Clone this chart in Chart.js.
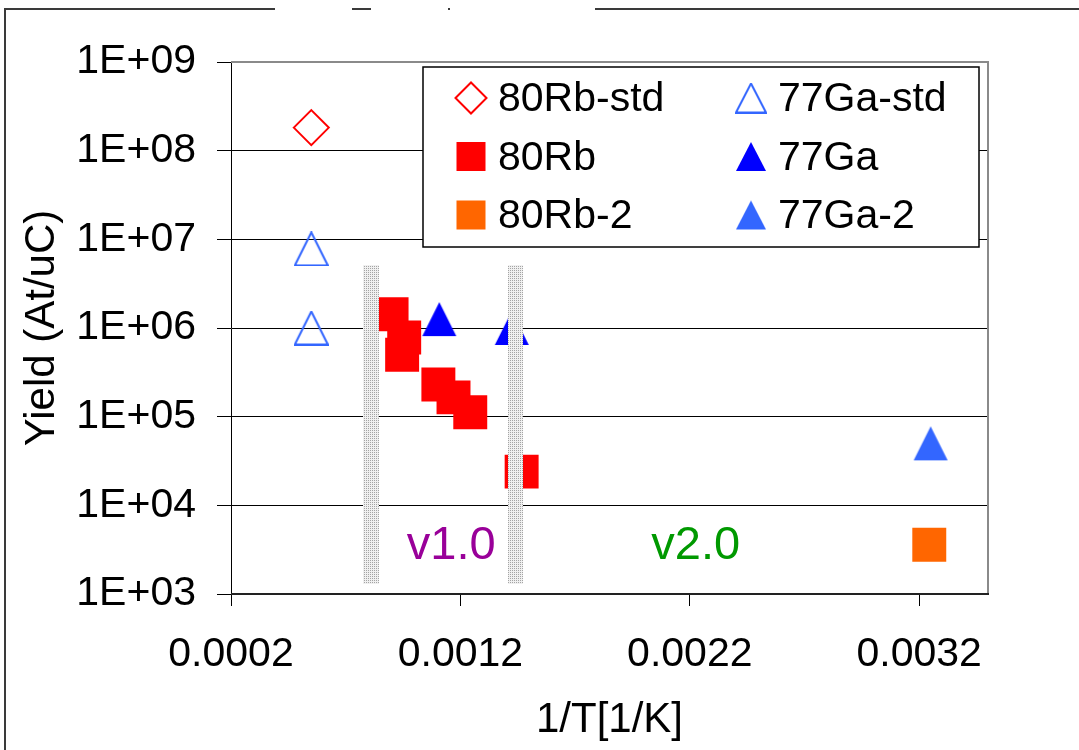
<!DOCTYPE html>
<html>
<head>
<meta charset="utf-8">
<script src="https://cdn.jsdelivr.net/npm/chart.js@4.4.0/dist/chart.umd.min.js"></script>
<style>
  html, body { margin: 0; padding: 0; background: #fff; }
  #wrap { width: 1079px; height: 750px; }
</style>
</head>
<body>
<div id="wrap"><canvas id="myChart" width="1079" height="750"></canvas></div>
<script>
// valores (1/T vs rendimiento)
var rbStdX = [0.00055]
var rbStdY = [1.82e8]

var gaStdX = [0.00055, 0.00055]
var gaStdY = [7.8e6, 1.0e6]

var rbX = [0.0009, 0.000955, 0.000946, 0.001104, 0.00117, 0.001243, 0.001467]
var rbY = [1.43e6, 7.8e5, 5.0e5, 2.3e5, 1.65e5, 1.12e5, 2.4e4]

var gaX = [0.001108, 0.001424]
var gaY = [1.26e6, 1.0e6]

var rb2X = [0.003244]
var rb2Y = [3.6e3]

var ga2X = [0.00325]
var ga2Y = [5.0e4]

var xTicks = [0.0002, 0.0012, 0.0022, 0.0032]
var yTicks = [1e3, 1e4, 1e5, 1e6, 1e7, 1e8, 1e9]

// franjas grises (rango en x, rango en y)
var bandasX = [[0.000777, 0.000845], [0.001406, 0.001474]]
var bandasY = [1.29e3, 5.1e6]

var notasTexto = ["v1.0", "v2.0"]
var notasX = [0.00116, 0.002226]
var notasY = [3.5e3, 3.5e3]
var notasColor = ["#990099", "#009900"]

var fuente = "'Liberation Sans', Arial, sans-serif"

function puntos(xs, ys) {
    return xs.map(function (x, i) { return { x: x, y: ys[i] } })
}

function triangulo(w, h, relleno, borde) {
    var c = document.createElement('canvas')
    c.width = w
    c.height = h
    var g = c.getContext('2d')
    g.beginPath()
    g.moveTo(w / 2, 1)
    g.lineTo(w - 1, h - 1)
    g.lineTo(1, h - 1)
    g.closePath()
    if (relleno) { g.fillStyle = relleno; g.fill() }
    if (borde) { g.strokeStyle = borde; g.lineWidth = 2; g.stroke() }
    return c
}

function trama() {
    var c = document.createElement('canvas')
    c.width = 2
    c.height = 2
    var g = c.getContext('2d')
    g.fillStyle = '#f0f0f0'
    g.fillRect(0, 0, 2, 2)
    g.fillStyle = '#a4a4a4'
    g.fillRect(0, 0, 1, 1)
    return c
}

var datasets = [
    { label: '80Rb-std', data: puntos(rbStdX, rbStdY), pointStyle: 'rectRot', pointRadius: 17.5,
      borderColor: '#FF0000', backgroundColor: 'rgba(0,0,0,0)', borderWidth: 2,
      leyenda: { tipo: 'rombo', lado: 31 } },
    { label: '77Ga-std', data: puntos(gaStdX, gaStdY), pointStyle: triangulo(35, 35, null, '#3366FF'),
      borderColor: '#3366FF', backgroundColor: 'rgba(0,0,0,0)',
      leyenda: { tipo: 'img', img: triangulo(32, 31, null, '#3366FF') } },
    { label: '80Rb', data: puntos(rbX, rbY), pointStyle: 'rect', pointRadius: 24,
      backgroundColor: '#FF0000', borderWidth: 0,
      leyenda: { tipo: 'cuadro', lado: 29 } },
    { label: '77Ga', data: puntos(gaX, gaY), pointStyle: triangulo(36, 36, '#0000FF'),
      backgroundColor: '#0000FF',
      leyenda: { tipo: 'img', img: triangulo(32, 31, '#0000FF') } },
    { label: '80Rb-2', data: puntos(rb2X, rb2Y), pointStyle: 'rect', pointRadius: 24,
      backgroundColor: '#FF6600', borderWidth: 0,
      leyenda: { tipo: 'cuadro', lado: 29 } },
    { label: '77Ga-2', data: puntos(ga2X, ga2Y), pointStyle: triangulo(36, 36, '#3366FF'),
      backgroundColor: '#3366FF',
      leyenda: { tipo: 'img', img: triangulo(32, 31, '#3366FF') } }
]

var extras = {
    id: 'extras',
    afterDraw: function (chart) {
        var ctx = chart.ctx
        var xs = chart.scales.x
        var ys = chart.scales.y
        var area = chart.chartArea

        // franjas punteadas
        ctx.save()
        ctx.fillStyle = ctx.createPattern(trama(), 'repeat')
        bandasX.forEach(function (b) {
            var x0 = Math.round(xs.getPixelForValue(b[0]))
            var x1 = Math.round(xs.getPixelForValue(b[1]))
            var y0 = Math.round(ys.getPixelForValue(bandasY[1]))
            var y1 = Math.round(ys.getPixelForValue(bandasY[0]))
            ctx.fillRect(x0, y0, x1 - x0, y1 - y0)
        })
        ctx.restore()

        // borde del area
        ctx.save()
        ctx.strokeStyle = '#8a8a8a'
        ctx.lineWidth = 2
        ctx.beginPath()
        ctx.moveTo(area.left, area.top)
        ctx.lineTo(area.right, area.top)
        ctx.lineTo(area.right, area.bottom)
        ctx.stroke()
        ctx.strokeStyle = '#222'
        ctx.beginPath()
        ctx.moveTo(area.left, area.bottom)
        ctx.lineTo(area.right + 1, area.bottom)
        ctx.stroke()
        ctx.restore()

        // textos v1.0 / v2.0
        ctx.save()
        ctx.font = '47px ' + fuente
        ctx.textAlign = 'center'
        ctx.textBaseline = 'middle'
        notasTexto.forEach(function (t, i) {
            ctx.fillStyle = notasColor[i]
            ctx.fillText(t, xs.getPixelForValue(notasX[i]), ys.getPixelForValue(notasY[i]))
        })
        ctx.restore()

        // leyenda
        ctx.save()
        ctx.fillStyle = '#fff'
        ctx.fillRect(423, 67, 556, 180)
        ctx.strokeStyle = '#000'
        ctx.lineWidth = 1.5
        ctx.strokeRect(423, 67, 556, 180)
        ctx.font = '41px ' + fuente
        ctx.textBaseline = 'middle'
        ctx.textAlign = 'left'
        chart.data.datasets.forEach(function (ds, i) {
            var col = i % 2
            var fila = Math.floor(i / 2)
            var mx = col === 0 ? 471 : 751
            var my = 98 + fila * 58.5
            var l = ds.leyenda
            if (l.tipo === 'img') {
                ctx.drawImage(l.img, mx - l.img.width / 2, my - l.img.height / 2)
            } else if (l.tipo === 'cuadro') {
                ctx.fillStyle = ds.backgroundColor
                ctx.fillRect(mx - l.lado / 2, my - l.lado / 2, l.lado, l.lado)
            } else {
                var r = l.lado / 2
                ctx.strokeStyle = ds.borderColor
                ctx.lineWidth = 2
                ctx.beginPath()
                ctx.moveTo(mx - r, my)
                ctx.lineTo(mx, my - r)
                ctx.lineTo(mx + r, my)
                ctx.lineTo(mx, my + r)
                ctx.closePath()
                ctx.stroke()
            }
            ctx.fillStyle = '#000'
            ctx.fillText(ds.label, mx + 27, my + 2)
        })
        ctx.restore()

        // marco exterior
        ctx.save()
        ctx.strokeStyle = '#3a3a3a'
        ctx.lineWidth = 2
        ctx.beginPath()
        ctx.moveTo(5, 750)
        ctx.lineTo(5, 9)
        ctx.lineTo(275, 9)
        ctx.moveTo(352, 9)
        ctx.lineTo(371, 9)
        ctx.moveTo(448, 9)
        ctx.lineTo(450, 9)
        ctx.moveTo(595, 9)
        ctx.lineTo(1079, 9)
        ctx.stroke()
        ctx.restore()
    }
}

var chart = new Chart("myChart", {
    type: "scatter",
    data: { datasets: datasets },
    plugins: [extras],
    options: {
        responsive: false,
        animation: false,
        events: [],
        devicePixelRatio: 1,
        layout: { padding: { top: 62, right: 91, left: 0, bottom: 0 } },
        plugins: {
            legend: { display: false },
            tooltip: { enabled: false },
            title: { display: false }
        },
        scales: {
            x: {
                type: 'linear',
                min: 0.0002,
                max: 0.0035,
                afterBuildTicks: function (s) { s.ticks = xTicks.map(function (v) { return { value: v } }) },
                afterFit: function (s) { s.height = 750 - 594 },
                ticks: {
                    callback: function (v) { return v.toFixed(4) },
                    font: { size: 41, family: fuente },
                    color: '#000',
                    padding: 24,
                    maxRotation: 0,
                    autoSkip: false
                },
                grid: { drawOnChartArea: false, drawTicks: true, tickLength: 12, color: '#000' },
                border: { display: true, color: '#000', width: 1 },
                title: {
                    display: true,
                    text: '1/T[1/K]',
                    color: '#000',
                    font: { size: 42, family: fuente },
                    padding: { top: 0, bottom: 4 }
                }
            },
            y: {
                type: 'logarithmic',
                min: 1e3,
                max: 1e9,
                afterBuildTicks: function (s) { s.ticks = yTicks.map(function (v) { return { value: v } }) },
                afterFit: function (s) { s.width = 231 },
                ticks: {
                    callback: function (v) {
                        return '1E+' + String(Math.round(Math.log10(v))).padStart(2, '0')
                    },
                    font: { size: 41, family: fuente },
                    color: '#000',
                    padding: 21,
                    autoSkip: false
                },
                grid: { color: '#000', lineWidth: 1, tickLength: 14, drawTicks: true },
                border: { display: true, color: '#000', width: 1 },
                title: {
                    display: true,
                    text: 'Yield (At/uC)',
                    color: '#000',
                    font: { size: 42, family: fuente },
                    padding: { top: 17, bottom: 0 }
                }
            }
        }
    }
});
</script>
</body>
</html>
